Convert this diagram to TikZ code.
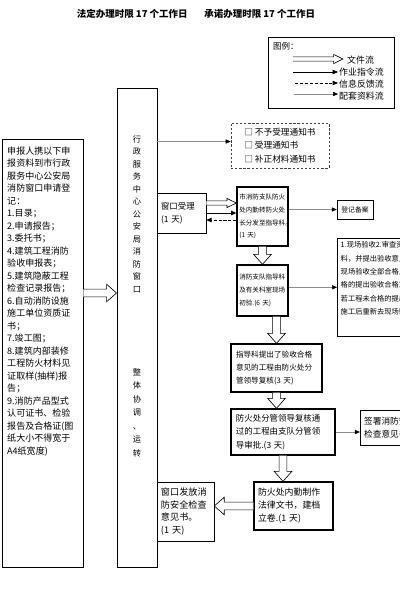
\documentclass[tikz,border=0pt]{standalone}
\usepackage{fontspec}
\setmainfont{Noto Sans CJK SC}
\usetikzlibrary{arrows.meta,calc}
\newcommand{\fashaft}{3.3pt}
\newcommand{\fahead}{7.5pt}
\newcommand{\falen}{8.5pt}
\newcommand{\fsz}[2]{\fontsize{#1}{#2}\selectfont}

\begin{document}
\begin{tikzpicture}[
  x=0.03cm, y=-0.03cm,
  every node/.style={inner sep=0pt},
  thinbox/.style={draw, line width=0.5pt, align=left, inner xsep=0.12cm, inner ysep=0pt},
  thickbox/.style={thinbox, line width=1.1pt},
  filearrow/.style={draw=black, line width=0.55pt, fill=white,
    to path={let \p1=(\tikztostart), \p2=(\tikztotarget),
      \n1={atan2(\y2-\y1,\x2-\x1)}, \n2={veclen(\x2-\x1,\y2-\y1)} in
      {[shift={(\p1)}, rotate=\n1]
       (0pt,-\fashaft) -- (\n2-\falen,-\fashaft) -- (\n2-\falen,-\fahead) -- (\n2,0pt)
       -- (\n2-\falen,\fahead) -- (\n2-\falen,\fashaft) -- (0pt,\fashaft)}}},
  smallhead/.code={\def\fashaft{1.8pt}\def\fahead{3.9pt}\def\falen{8pt}},
  orderflow/.style={line width=0.7pt, -{Triangle[length=4.5pt,width=3.8pt]}},
  infoflow/.style={line width=0.7pt, dash pattern=on 2.6pt off 1.6pt, -{Triangle[length=4.5pt,width=3.8pt]}},
  matflow/.style={line width=0.4pt, black!45, -{Triangle[length=4.2pt,width=3.6pt,color=black]}},
  lgtext/.style={anchor=west, font=\fsz{7.6}{9}}
]
\useasboundingbox (0,0) rectangle (400,608);
\clip (0,0) rectangle (400,608);

% title
\node[font=\fsz{8.1}{10}\bfseries] (title) at (196,14) {法定办理时限 17 个工作日\hspace{0.5cm}承诺办理时限 17 个工作日};

% legend
\node[draw, line width=0.5pt, minimum width=3.78cm, minimum height=2.13cm, anchor=north west] (legend) at (268,37) {};
\node[anchor=west, font=\fsz{7.2}{9}] (legend-title) at (273,46) {图例：};
\coordinate (lg-file-s) at (293,59);  \coordinate (lg-file-e) at (343,59);
\coordinate (lg-order-s) at (293,72); \coordinate (lg-order-e) at (338,72);
\coordinate (lg-info-s) at (295,83);  \coordinate (lg-info-e) at (338,83);
\coordinate (lg-mat-s) at (294,94);   \coordinate (lg-mat-e) at (338,94);
\draw[filearrow, smallhead] (lg-file-s) to (lg-file-e);
\draw[orderflow] (lg-order-s) -- (lg-order-e);
\draw[infoflow] (lg-info-s) -- (lg-info-e);
\draw[matflow] (lg-mat-s) -- (lg-mat-e);
\node[lgtext] (lg-file) at (347,60) {文件流};
\node[lgtext] (lg-order) at (339,72) {作业指令流};
\node[lgtext] (lg-info) at (339,84) {信息反馈流};
\node[lgtext] (lg-mat) at (339,96) {配套资料流};

% notices
\node[draw, line width=0.6pt, black!75, text=black, dash pattern=on 2pt off 1.5pt, align=left,
  minimum width=2.94cm, minimum height=1.35cm, font=\fsz{7.4}{11.5}] (notices) at (280,145.5)
  {□ 不予受理通知书\\□ 受理通知书\\□ 补正材料通知书};

% applicant
\node[thinbox, minimum width=2.43cm, minimum height=12.84cm] (apply) at (42.5,353) {};
\node[anchor=north west, align=left, font=\fsz{7.7}{10.67}] (apply-list) at (7,146.5) {申报人携以下申\\
报资料到市行政\\
服务中心公安局\\
消防窗口申请登\\
记：\\
1.目录；\\
2.申请报告；\\
3.委托书；\\
4.建筑工程消防\\
验收申报表；\\
5.建筑隐蔽工程\\
检查记录报告；\\
6.自动消防设施\\
施工单位资质证\\
书；\\
7.竣工图；\\
8.建筑内部装修\\
工程防火材料见\\
证取样(抽样)报\\
告；\\
9.消防产品型式\\
认可证书、检验\\
报告及合格证(图\\
纸大小不得宽于\\
A4纸宽度)};

% service centre window
\node[draw, line width=0.8pt, minimum width=1.2cm, minimum height=14.37cm] (centre) at (137,327.5) {};
\node[align=center, font=\fsz{7}{10.67}] (centre-name) at (137,214) {行\\政\\服\\务\\中\\心\\公\\安\\局\\消\\防\\窗\\口};
\node[align=center, font=\fsz{7}{11.5}] (centre-duty) at (137,412.5) {整\\体\\协\\调\\、\\运\\转};

% process boxes
\node[thinbox, text width=1.23cm, minimum height=1.2cm, font=\fsz{7.2}{11}] (accept) at (181.5,213) {窗口受理\\(1~天)};
\node[thickbox, inner xsep=0.07cm, text width=1.39cm, minimum height=1.77cm, font=\fsz{5.6}{11}] (dispatch) at (262.5,216.5)
  {市消防支队防火\\处内勤转防火处\\长分发至指导科\rlap{。}\\(1~天)};
\node[thinbox, minimum width=1.08cm, minimum height=0.57cm, align=center, inner xsep=0pt, font=\fsz{5.8}{7}] (record) at (355,209.5) {登记备案};
\node[thickbox, inner xsep=0.07cm, text width=1.39cm, minimum height=1.53cm, font=\fsz{5.6}{11}] (inspect) at (262.5,290.5)
  {消防支队指导科\\及有关科室现场\\初验.(6~天)};
\node[thinbox, minimum width=3cm, minimum height=2.94cm, anchor=north west] (check) at (337,238) {};
\node[anchor=north west, align=left, font=\fsz{6.2}{11.4}] (check-text) at (340.5,241.5)
  {1.现场验收2.审查资\\料，并提出验收意见\\现场验收全部合格且资\\格的提出验收合格意见\\若工程未合格的提出整改\\施工后重新去现场验收};
\node[thickbox, inner xsep=0.15cm, text width=2.43cm, minimum height=1.44cm, font=\fsz{6.5}{11}] (review) at (276.5,368)
  {指导科提出了验收合格\\意见的工程由防火处分\\管领导复核(3~天)};
\node[thickbox, inner xsep=0.15cm, text width=2.82cm, minimum height=1.38cm, font=\fsz{7.2}{11.4}] (approve) at (283,432)
  {防火处分管领导复核通\\过的工程由支队分管领\\导审批.(3~天)};
\node[thinbox, text width=1.7cm, minimum height=1.05cm, font=\fsz{7.4}{11}] (sign) at (392.5,427.5)
  {签署消防安全\\检查意见书};
\node[thickbox, text width=2.13cm, minimum height=1.44cm, font=\fsz{7.6}{11}] (archive) at (293.5,506)
  {防火处内勤制作\\法律文书，建档\\立卷.(1~天)};
\node[thinbox, text width=1.47cm, minimum height=1.77cm, font=\fsz{7.8}{11}] (issue) at (185.5,511.5)
  {窗口发放消\\防安全检查\\意见书。\\(1~天)};

% file flow
\coordinate (apply-out) at ($(apply.east)+(0,-60)$);
\draw[filearrow] (apply-out) to (apply-out -| centre.west);
\coordinate (accept-out) at ($(accept.east)+(0,-10)$);
\draw[filearrow, smallhead] (accept-out) to (accept-out -| dispatch.west);
\draw[filearrow] (dispatch.south) to (inspect.north);
\draw[filearrow] (inspect.south -| review.north) to (review.north);
\draw[filearrow] (review.south) to (review.south |- approve.north);
\draw[filearrow] (approve.south) to (approve.south |- archive.north);
\draw[filearrow] (archive.west) to (archive.west -| issue.east);

% order and feedback
\draw[orderflow] (accept.east) -- (accept.east -| dispatch.west);
\coordinate (accept-back) at ($(accept.east)+(0,7)$);
\draw[infoflow] (accept-back -| dispatch.west) -- (accept-back);

% material flow
\coordinate (notices-in) at ($(notices.west)+(0,-4)$);
\draw[matflow] (notices-in -| centre.east) -- (notices-in);
\draw[matflow] (dispatch.east |- record.west) -- (record.west);
\draw[matflow] (inspect.east |- check.west) -- (check.west);
\draw[matflow] (approve.east) -- (approve.east -| sign.west);
\end{tikzpicture}
\end{document}
